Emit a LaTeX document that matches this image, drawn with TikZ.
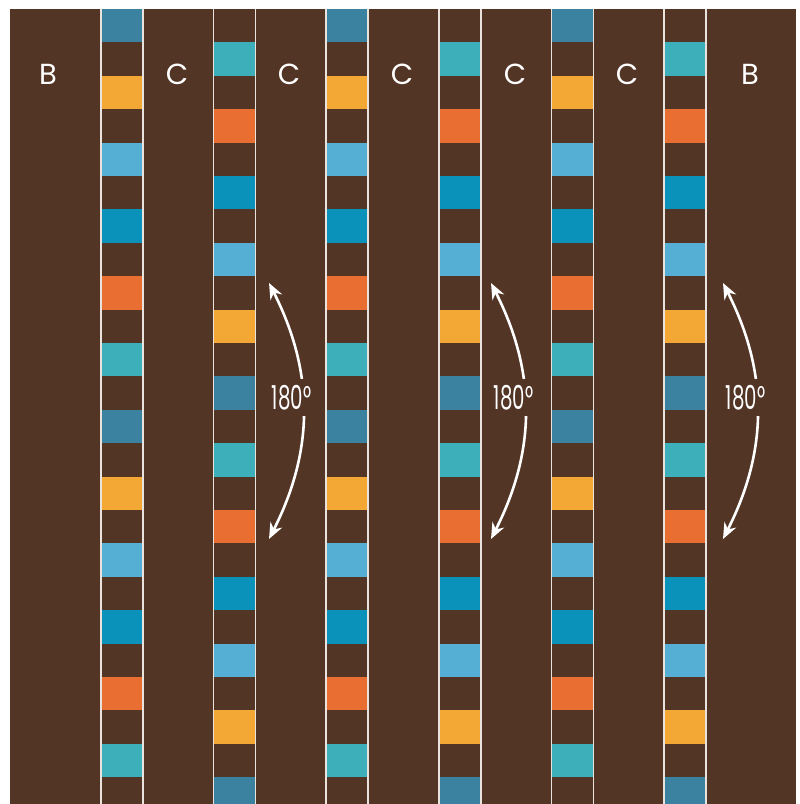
\documentclass[tikz,border=0pt]{standalone}
\usepackage{fontspec}
\setmainfont{Poppins}
\newfontfamily\narrowfont[FakeStretch=0.6]{Poppins}
\usetikzlibrary{arrows.meta}
\definecolor{bark}{RGB}{83,53,38}
\definecolor{laneline}{RGB}{234,226,220}
\definecolor{tile0}{RGB}{58,130,160}
\definecolor{tile1}{RGB}{243,167,53}
\definecolor{tile2}{RGB}{85,174,211}
\definecolor{tile3}{RGB}{10,146,186}
\definecolor{tile4}{RGB}{232,110,50}
\definecolor{tile5}{RGB}{61,175,186}

\begin{document}
\begin{tikzpicture}[x=1pt, y=-1pt,
    lane/.style={draw=laneline, line width=1.6pt},
    lbl/.style={text=white, font=\fontsize{29}{29}\selectfont},
    rot/.style={{Stealth[length=16pt,width=13pt]}-{Stealth[length=16pt,width=13pt]},
                white, line width=2.6pt},
    deg/.style={fill=bark, text=white, inner xsep=1pt, inner ysep=6pt,
                font=\narrowfont\fontsize{33}{33}\selectfont}
  ]
  \useasboundingbox (0,0) rectangle (800,804);
  \fill[bark] (10,9) rectangle (796,804);

  % strips of tiles
  \begin{scope}
    \clip (10,9) rectangle (796,804);
    \foreach \s in {0,...,5}{
      \pgfmathsetmacro\xl{101+112.6*\s}
      \pgfmathtruncatemacro\odd{mod(\s,2)}
      \foreach \k in {0,...,11}{
        \pgfmathtruncatemacro\ci{mod(\k,6)+\odd*(5-2*mod(\k,6))}
        \pgfmathsetmacro\yt{9+33.4*(2*\k+\odd)}
        \fill[tile\ci] (\xl,\yt) rectangle ++(42,33.4);
      }
      \draw[lane] (\xl,9) -- (\xl,804) (\xl+42,9) -- (\xl+42,804);
    }
  \end{scope}

  % column labels
  \node[lbl] (b1) at (48,74.5) {B};
  \foreach \n/\x in {c1/177, c2/289, c3/402, c4/515, c5/627}
    \node[lbl] (\n) at (\x,74.5) {C};
  \node[lbl] (b2) at (750,74.5) {B};

  % rotation arrows
  \foreach \t [count=\i] in {269, 491, 723}{
    \coordinate (up\i) at (\t,283);
    \coordinate (dn\i) at (\t,539);
    \draw[rot] (up\i) to[bend left=27]
      node[deg, pos=0.445, xshift=-11pt] (deg\i) {180°} (dn\i);
  }
\end{tikzpicture}
\end{document}
